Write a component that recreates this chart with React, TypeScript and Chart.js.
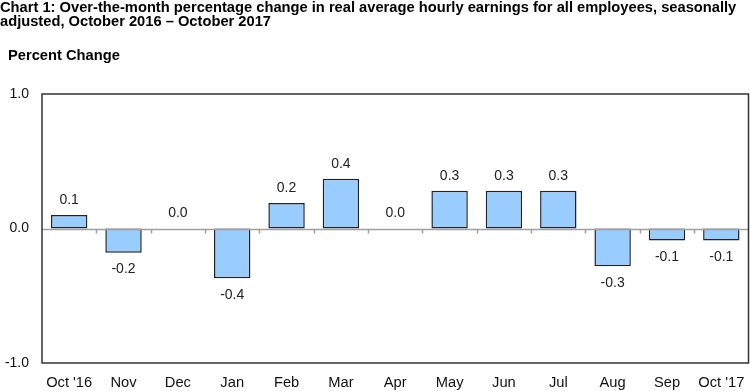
import React, { useEffect, useRef } from "react";
import { Chart, registerables } from "chart.js";

Chart.register(...registerables);

const titleLines = [
  "Chart 1: Over-the-month percentage change in real average hourly earnings for all employees, seasonally",
  "adjusted, October 2016 \u2013 October 2017",
];
const yAxisTitle = "Percent Change";
const categories = ["Oct '16", "Nov", "Dec", "Jan", "Feb", "Mar", "Apr", "May", "Jun", "Jul", "Aug", "Sep", "Oct '17"];
const values = [0.1, -0.18, 0.0, -0.37, 0.19, 0.37, 0.0, 0.28, 0.28, 0.28, -0.28, -0.09, -0.09];
const valueLabels = ["0.1", "-0.2", "0.0", "-0.4", "0.2", "0.4", "0.0", "0.3", "0.3", "0.3", "-0.3", "-0.1", "-0.1"];
const yTicks = [-1, 0, 1];

const FONT = "'Liberation Sans', Arial, sans-serif";

const decorPlugin = {
  id: "decor",
  beforeDraw(chart: any) {
    const ctx = chart.ctx;
    ctx.save();
    ctx.fillStyle = "#000";
    ctx.font = `bold 14.7px ${FONT}`;
    ctx.textBaseline = "alphabetic";
    ctx.textAlign = "left";
    ctx.fillText(titleLines[0], 0, 11.5);
    ctx.fillText(titleLines[1], 0, 25.5);
    ctx.fillText(yAxisTitle, 8, 60);
    ctx.restore();
  },
  afterDatasetsDraw(chart: any) {
    const ctx = chart.ctx;
    const area = chart.chartArea;
    const y = chart.scales.y;
    const y0 = Math.round(y.getPixelForValue(0)) + 0.5;
    ctx.save();
    // zero line
    ctx.strokeStyle = "#a0a0a0";
    ctx.lineWidth = 1.5;
    ctx.beginPath();
    ctx.moveTo(area.left, y0);
    ctx.lineTo(area.right, y0);
    const n = categories.length;
    const w = (area.right - area.left) / n;
    for (let k = 1; k < n; k++) {
      const xx = Math.round(area.left + k * w) + 0.5;
      ctx.moveTo(xx, y0);
      ctx.lineTo(xx, y0 + 4);
    }
    ctx.stroke();
    // frame
    ctx.strokeStyle = "#333";
    ctx.lineWidth = 1.5;
    ctx.strokeRect(area.left, area.top, area.right - area.left, area.bottom - area.top);
    // value labels
    ctx.fillStyle = "#222";
    ctx.font = `14px ${FONT}`;
    ctx.textAlign = "center";
    ctx.textBaseline = "middle";
    const meta = chart.getDatasetMeta(0);
    meta.data.forEach((bar: any, i: number) => {
      const v = values[i];
      const ly = v >= 0 ? bar.y - 15 : bar.y + 16.5;
      ctx.fillText(valueLabels[i], bar.x, ly);
    });
    ctx.restore();
  },
};

export default function App() {
  const ref = useRef<HTMLCanvasElement>(null);
  useEffect(() => {
    document.body.style.margin = "0";
    const chart = new Chart(ref.current!, {
      type: "bar",
      data: {
        labels: categories,
        datasets: [
          {
            data: values,
            backgroundColor: "#99ccff",
            borderColor: "#222",
            borderWidth: 1.5,
            borderSkipped: false,
            categoryPercentage: 1,
            barPercentage: 0.67,
          },
        ],
      },
      options: {
        animation: false,
        responsive: false,
        maintainAspectRatio: false,
        layout: { padding: { top: 94, right: 1.5, left: 0, bottom: 0 } },
        plugins: { legend: { display: false }, tooltip: { enabled: false }, title: { display: false } },
        scales: {
          x: {
            grid: { display: false, drawTicks: false },
            border: { display: false },
            ticks: { color: "#111", font: { family: FONT, size: 14.7 }, padding: 11, maxRotation: 0, autoSkip: false },
            afterFit(scale: any) {
              scale.height = 28;
              scale.paddingLeft = 0;
              scale.paddingRight = 0;
            },
          },
          y: {
            min: -1,
            max: 1,
            afterBuildTicks(scale: any) {
              scale.ticks = yTicks.map((v) => ({ value: v }));
            },
            grid: { display: false, drawTicks: false },
            border: { display: false },
            ticks: {
              color: "#111",
              font: { family: FONT, size: 14 },
              padding: 13,
              callback: (v: any) => Number(v).toFixed(1),
            },
            afterFit(scale: any) {
              scale.width = 42;
              scale.paddingTop = 0;
              scale.paddingBottom = 0;
            },
          },
        },
      },
      plugins: [decorPlugin],
    });
    return () => chart.destroy();
  }, []);
  return (
    <div style={{ position: "absolute", left: 0, top: 0, width: 750, height: 391, background: "#fff" }}>
      <canvas ref={ref} width={750} height={391} style={{ width: 750, height: 391 }} />
    </div>
  );
}
